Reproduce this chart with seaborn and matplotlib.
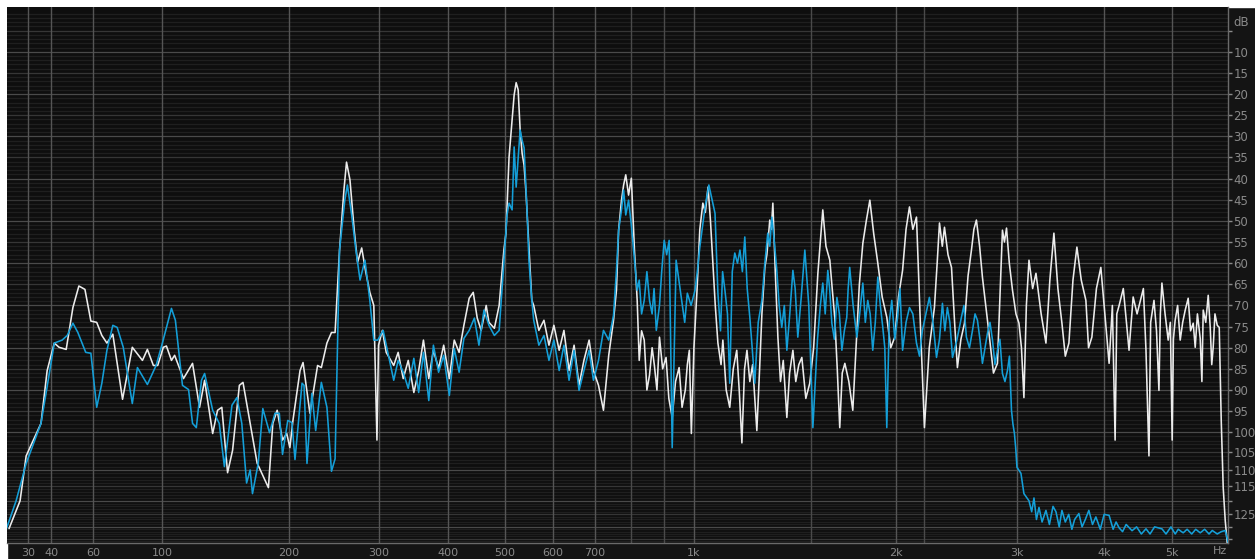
import numpy as np
import pandas as pd
import matplotlib
matplotlib.use("Agg")
import matplotlib.pyplot as plt
from matplotlib.patches import Rectangle
import seaborn as sns

# input trace (white), frequency in Hz / level in dB below full scale
white_lo_freq = [22.3, 25.5, 26.7, 29.2, 31.7, 35.5, 38.2, 41.4, 43.6, 46.9, 50.1, 53, 56, 59, 62, 64.7, 67.4, 70.6,
                 76, 81.6, 87.6, 90.6, 94.3, 97, 100.6, 102.6, 105.9, 108, 114, 120.3, 125.3, 129, 135, 138.7, 142,
                 146.5, 150.5, 156, 159, 171, 181, 185, 189, 194, 198, 201, 204, 211, 214, 221, 229, 233, 239, 244,
                 248, 253, 258, 261, 265, 270, 274, 279, 284, 289, 294, 298, 300, 305, 310, 320, 326, 333, 340, 348,
                 355, 362, 370, 377, 385, 393, 402, 410, 418, 426, 435, 442, 449, 456, 465, 470, 480, 489, 498, 502,
                 508, 514, 518, 522, 526, 530, 534, 538, 542, 548, 554, 558, 569, 580, 591, 602, 614, 625, 637, 649,
                 661, 673, 686, 697]
white_lo_db = [130.7, 122.7, 120.0, 106.0, 102.6, 97.9, 85.4, 78.9, 79.9, 80.4, 70.5, 65.4, 66.2, 73.7, 74.0, 77.1,
               78.9, 76.8, 92.2, 79.9, 83.0, 80.4, 84.2, 84.2, 79.9, 79.6, 83.0, 81.8, 87.3, 83.7, 94.1, 87.7, 100.3,
               94.8, 94.1, 110.8, 104.5, 88.9, 88.2, 108, 115.5, 97.9, 94.8, 101.9, 100.3, 103.8, 97.2, 85.4, 83.5,
               95.5, 84.2, 84.7, 78.9, 76.4, 76.4, 56.9, 42.7, 36.1, 40.3, 52.2, 59.8, 56.4, 62.1, 66.9, 70.0, 101.9,
               79.4, 75.9, 81.1, 84.2, 81.1, 87.3, 83.0, 90.6, 85.4, 78.2, 87.3, 80.6, 84.9, 79.4, 87.3, 78.2, 81.1,
               74.7, 68.3, 66.9, 73.0, 75.9, 70.0, 74.0, 75.4, 70.0, 56.9, 52.9, 34.9, 26.1, 20.2, 17.3, 19.0, 28.5,
               34.0, 36.8, 43.4, 56.2, 68.8, 70.0, 75.9, 73.5, 79.4, 74.7, 80.6, 75.9, 85.4, 79.4, 88.9, 83.0, 78.2,
               85.4]
white_hi_freq = [710, 723, 737, 750, 758, 764, 772, 778, 784, 786, 792, 800, 809, 817, 823, 830, 838, 846, 854, 862,
                 869, 877, 885, 895, 906, 915, 926, 937, 949, 959, 970, 977, 984, 991, 1000, 1011, 1021, 1032, 1041,
                 1051, 1060, 1069, 1078, 1088, 1100, 1107, 1120, 1134, 1148, 1162, 1172, 1183, 1194, 1204, 1216,
                 1228, 1246, 1258, 1268, 1281, 1290, 1303, 1310, 1317, 1328, 1340, 1352, 1365, 1382, 1395, 1411,
                 1425, 1440, 1455, 1475, 1495, 1515, 1537, 1550, 1563, 1580, 1601, 1614, 1628, 1642, 1656, 1670,
                 1685, 1708, 1731, 1750, 1770, 1791, 1812, 1834, 1858, 1884, 1912, 1942, 1968, 1995, 2020, 2048,
                 2072, 2096, 2120, 2146, 2175, 2204, 2240, 2279, 2300, 2318, 2340, 2357, 2385, 2413, 2440, 2461,
                 2490, 2520, 2550, 2579, 2600, 2622, 2650, 2675, 2705, 2738, 2775, 2812, 2835, 2859, 2878, 2898,
                 2925, 2956, 2990, 3020, 3045, 3070, 3095, 3122, 3160, 3195, 3250, 3302, 3345, 3390, 3435, 3481,
                 3520, 3562, 3610, 3657, 3710, 3767, 3800, 3842, 3900, 3957, 4010, 4066, 4110, 4147, 4170, 4202,
                 4260, 4341, 4400, 4457, 4550, 4589, 4634, 4660, 4711, 4750, 4788, 4810, 4835, 4885, 4935, 4970,
                 5000, 5020, 5049, 5090, 5133, 5175, 5218, 5269, 5310, 5356, 5391, 5430, 5480, 5510, 5534, 5580,
                 5625, 5662, 5690, 5717, 5750, 5793, 5831, 5869, 5907, 5946, 5985]
white_hi_db = [88.9, 94.8, 81.8, 73.5, 66.4, 52.2, 45.1, 41.5, 39.1, 40.3, 43.9, 39.9, 56.9, 68.8, 83.0, 76, 78.2, 90,
               86.5, 80, 84.2, 90, 77.5, 85, 82.3, 92, 96.5, 88, 84.7, 94.1, 90, 84, 80.6, 100.3, 80, 66.4, 52, 45.8,
               48, 42.0, 50, 60.0, 70, 78.9, 84, 78.2, 90, 94.1, 85, 80.6, 90, 102.6, 85, 80.6, 88, 84, 99.6, 85, 72,
               61.0, 58, 49.8, 52, 45.8, 62, 77.5, 88, 83, 96.5, 86, 80.6, 88, 84, 82.3, 92, 88.4, 80, 62.4, 55, 47.4,
               56, 59.3, 66, 72.8, 85, 98.9, 86, 83.7, 88, 94.8, 80, 65, 55.3, 50, 45.1, 53, 60.0, 68, 72.8, 80, 77.5,
               68, 61.7, 52, 46.7, 52, 49.1, 75, 98.9, 80, 70.5, 60, 50.5, 56, 51.5, 58, 61.0, 75, 84.7, 78, 74.2, 63,
               56.9, 52, 49.8, 56, 63.3, 70, 77.5, 86, 83.7, 68, 52.2, 55, 51.7, 60, 66.4, 72, 74.2, 80, 91.8, 70,
               59.3, 66, 62.4, 72, 78.9, 64, 52.9, 66, 74.2, 82, 78.9, 64, 56.2, 64, 68.8, 80, 77.5, 66, 61.0, 72, 83.7,
               70, 101.9, 72, 70, 66, 80.6, 68, 72, 66, 80.6, 106, 74, 68.8, 76, 90.1, 72, 64.7, 72, 78.2, 74, 101.9,
               78, 73.5, 70, 78.2, 74, 71.1, 68.3, 76, 74.2, 79.9, 72, 77.8, 88, 71.1, 74, 67.6, 75.2, 84, 79.9, 72,
               74.7, 75.2, 97.2, 115.5, 127.4, 137.0]

# processed trace (blue)
blue_lo_freq = [21, 25.1, 29.2, 35.5, 37.7, 41.4, 45, 47.4, 50.1, 52.5, 56.4, 59, 62, 64.7, 67.4, 70.6, 73, 76.4, 81.6,
                84.6, 90.6, 96, 100, 105.9, 108.5, 113.3, 117.5, 120.3, 123, 126.7, 129, 135, 140, 144, 150, 154, 158,
                162, 165, 167, 172, 176, 182, 187, 191, 194, 199, 203, 206, 213, 215, 218, 223, 227, 233, 239, 244,
                248, 253, 259, 262, 267, 272, 277, 283, 289, 294, 299, 306, 313, 320, 326, 333, 340, 348, 355, 362,
                370, 377, 385, 393, 402, 410, 418, 426, 435, 444, 452, 461, 470, 480, 489, 498, 504, 508, 514, 518,
                522, 530, 534, 538, 544, 548, 554, 558, 569, 580, 591, 602, 614, 625, 637, 649, 661, 673, 686, 697]
blue_lo_db = [131.6, 120.0, 108.1, 97.9, 90.8, 78.9, 78.2, 77.1, 74.2, 76.4, 81.1, 81.3, 94.1, 88.4, 80.6, 74.7, 75.2,
              79.9, 93.2, 84.7, 88.7, 84.2, 78.9, 70.7, 73.5, 88.9, 89.9, 97.9, 98.9, 87.7, 86.1, 94.8, 97.9, 109,
              93.6, 91.8, 97.9, 114, 110, 117.5, 108, 94.4, 100.1, 95.5, 95.5, 105.6, 97.2, 97.7, 107, 88.4, 88.9,
              108.1, 90.8, 99.6, 88.2, 94.1, 110.4, 106.8, 56.9, 45.1, 41.5, 48.6, 56.9, 64.0, 59.3, 68.8, 78.2, 78.2,
              75.9, 81.8, 87.7, 83.0, 85.8, 89.6, 82.5, 90.6, 81.1, 92.5, 79.4, 85.8, 81.8, 91.3, 80.2, 85.8, 77.8,
              75.9, 73.0, 79.4, 71.1, 74.7, 77.1, 75.9, 59.8, 48.6, 45.8, 47.4, 32.5, 42.0, 28.5, 30.9, 32.7, 47.4,
              59.3, 68.8, 73.5, 79.4, 77.1, 83.0, 78.2, 85.4, 79.4, 87.7, 80.6, 90.1, 85.4, 80.6, 87.7]
blue_hi_freq = [710, 723, 737, 750, 758, 764, 772, 778, 784, 792, 800, 809, 817, 823, 830, 838, 846, 854, 862, 868,
                875, 885, 892, 900, 908, 916, 926, 939, 948, 959, 968, 977, 990, 1004, 1012, 1021, 1040, 1054, 1077,
                1088, 1098, 1106, 1115, 1125, 1134, 1144, 1154, 1165, 1175, 1185, 1195, 1205, 1216, 1226, 1237, 1252,
                1268, 1281, 1294, 1303, 1312, 1322, 1335, 1346, 1358, 1370, 1382, 1396, 1411, 1422, 1435, 1452, 1470,
                1490, 1511, 1535, 1550, 1563, 1576, 1590, 1600, 1612, 1626, 1640, 1654, 1668, 1682, 1696, 1704, 1713,
                1733, 1755, 1772, 1791, 1806, 1821, 1836, 1852, 1868, 1884, 1900, 1916, 1929, 1942, 1958, 1975, 1995,
                2014, 2030, 2048, 2072, 2096, 2120, 2146, 2168, 2189, 2215, 2241, 2268, 2295, 2318, 2341, 2360, 2380,
                2400, 2421, 2458, 2494, 2515, 2536, 2562, 2588, 2610, 2631, 2653, 2675, 2698, 2720, 2743, 2766, 2789,
                2812, 2835, 2859, 2883, 2907, 2926, 2946, 2960, 2975, 2988, 3000, 3040, 3070, 3122, 3150, 3174, 3200,
                3227, 3260, 3302, 3340, 3380, 3413, 3450, 3481, 3520, 3560, 3597, 3630, 3681, 3720, 3760, 3804, 3850,
                3893, 3950, 4000, 4066, 4120, 4160, 4202, 4250, 4300, 4384, 4450, 4520, 4589, 4650, 4720, 4835, 4900,
                4980, 5050, 5100, 5183, 5250, 5330, 5400, 5480, 5560, 5640, 5700, 5793, 5870, 5946, 6004]
blue_hi_db = [83.0, 75.9, 78.2, 72.3, 61.7, 52.2, 47.4, 42.7, 48.6, 45.1, 51.0, 59.3, 66.4, 64.0, 72, 68.8, 62, 68.8,
              72, 66, 75.9, 70, 62, 54.6, 58, 54.6, 103.8, 59.3, 64, 69.5, 74, 67.1, 70, 66.4, 62, 56.2, 46.7, 41.5,
              48.2, 67.1, 76, 62, 66.4, 72, 88.4, 62, 57.6, 60, 56.9, 62, 53.8, 66, 72.8, 80, 88.4, 74, 68.8, 60, 52.9,
              56, 49.1, 54, 61.7, 70, 75.2, 70, 80.6, 72, 61.7, 66, 77.5, 68, 56.9, 70, 98.9, 78, 70, 64.7, 72, 61.7,
              66, 74.2, 78, 68.1, 72, 80.6, 76, 72.8, 66, 61.0, 70, 77.5, 72, 64.7, 74, 68.8, 72, 80.6, 74, 63.3, 70,
              75.2, 80, 98.9, 74, 68.8, 78, 72.8, 66, 80.6, 74, 70.5, 72, 78.9, 82, 75.9, 72, 68.1, 74, 82.3, 78, 69.5,
              76, 70.5, 74, 82.3, 78, 72.8, 70, 77.5, 80, 75.9, 72, 73.5, 78, 83.7, 80, 76.6, 74, 78.2, 84, 80.6, 78,
              86.1, 88, 85.4, 82, 94.8, 98, 100.3, 104, 109.2, 111.0, 117.5, 120.0, 124, 119, 127, 122.4, 128, 123.5,
              129, 122, 124, 130, 123.5, 128, 125, 131, 127, 124.7, 130, 127, 123.5, 129, 126, 131, 125, 125.4, 131,
              128, 130.4, 132, 129, 131.6, 130, 133, 130.8, 133, 130, 130.8, 133, 130, 133, 131, 132.5, 131, 133, 131,
              132.5, 131, 133, 131.5, 133, 132, 131.5, 136.8]

x_ticks = [30, 40, 60, 100, 200, 300, 400, 500, 600, 700, 1000, 2000, 3000, 4000, 5000]
x_labels = ["30", "40", "60", "100", "200", "300", "400", "500", "600", "700", "1k", "2k", "3k", "4k", "5k"]
x_faint = [800, 900, 1500, 2200]
y_ticks = list(range(5, 136, 5))
y_labels = ["" if v in (5, 120, 130, 135) else str(v) for v in y_ticks]
y_fine = list(range(1, 137))

df = pd.concat([
    pd.DataFrame({"freq": white_lo_freq + white_hi_freq, "level": white_lo_db + white_hi_db, "trace": "in"}),
    pd.DataFrame({"freq": blue_lo_freq + blue_hi_freq, "level": blue_lo_db + blue_hi_db, "trace": "out"}),
])


def fwd_x(f):
    return np.log10(np.maximum(np.asarray(f, float) + 100.0, 1e-3))


def inv_x(v):
    return 10.0 ** np.asarray(v, float) - 100.0


def fwd_y(d):
    d = np.asarray(d, float)
    return np.where(d <= 100, d, 100 + 40 * np.log1p(np.maximum(d - 100, -39.9) / 40))


def inv_y(p):
    p = np.asarray(p, float)
    return np.where(p <= 100, p, 100 + 40 * np.expm1(np.minimum(p - 100, 200) / 40))


sns.set_style("dark", rc={"axes.facecolor": "#0e0e0e", "figure.facecolor": "#141414"})
plt.rcParams["font.family"] = ["DejaVu Sans"]

fig = plt.figure(figsize=(12.55, 5.59), dpi=100)
ax = fig.add_axes([7 / 1255, 16 / 559, 1221 / 1255, 536 / 559])
fig.patches.append(Rectangle((0, 0), 7 / 1255, 1, transform=fig.transFigure, color="white", zorder=-1))
fig.patches.append(Rectangle((0, 552 / 559), 1, 7 / 559, transform=fig.transFigure, color="white", zorder=-1))

ax.set_xscale("function", functions=(fwd_x, inv_x))
ax.set_yscale("function", functions=(fwd_y, inv_y))

# grid: 1 dB lines, brighter every 5 and 10 dB
for v in y_fine:
    c = "#4a4a4a" if v % 10 == 0 else ("#363636" if v % 5 == 0 else "#1f1f1f")
    ax.axhline(v, color=c, lw=0.9, zorder=0)
for f in x_ticks:
    ax.axvline(f, color="#555555", lw=1, zorder=0.5)
for f in x_faint:
    ax.axvline(f, color="#4a4a4a", lw=1, zorder=0.5)

sns.lineplot(data=df, x="freq", y="level", hue="trace", palette={"in": "#ececec", "out": "#149fd8"},
             estimator=None, sort=True, linewidth=1.15, legend=False, ax=ax, zorder=3)

ax.set_xlim(21.5, 6000)
ax.set_ylim(137, -0.6)
ax.set_xticks(x_ticks)
ax.set_xticklabels(x_labels)
ax.set_xticks([], minor=True)
ax.yaxis.tick_right()
ax.set_yticks(y_ticks)
ax.set_yticklabels(y_labels)
ax.set_yticks([], minor=True)
ax.tick_params(axis="x", colors="#8a8a8a", labelsize=8, length=2, pad=1.5, width=1)
ax.tick_params(axis="y", colors="#8a8a8a", labelsize=8.5, length=3, pad=1, width=1)
ax.set_xlabel("")
ax.set_ylabel("")
ax.grid(False)
for side in ["left", "top"]:
    ax.spines[side].set_visible(False)
for side in ["right", "bottom"]:
    ax.spines[side].set_color("#6a6a6a")
    ax.spines[side].set_linewidth(1)

ax.text(1.004, 0.972, "dB", transform=ax.transAxes, color="#8a8a8a", fontsize=8.5, ha="left", va="center")
ax.text(0.999, -0.006, "Hz", transform=ax.transAxes, color="#8a8a8a", fontsize=8, ha="right", va="top")

fig.savefig("out.png", dpi=100, facecolor=fig.get_facecolor())
